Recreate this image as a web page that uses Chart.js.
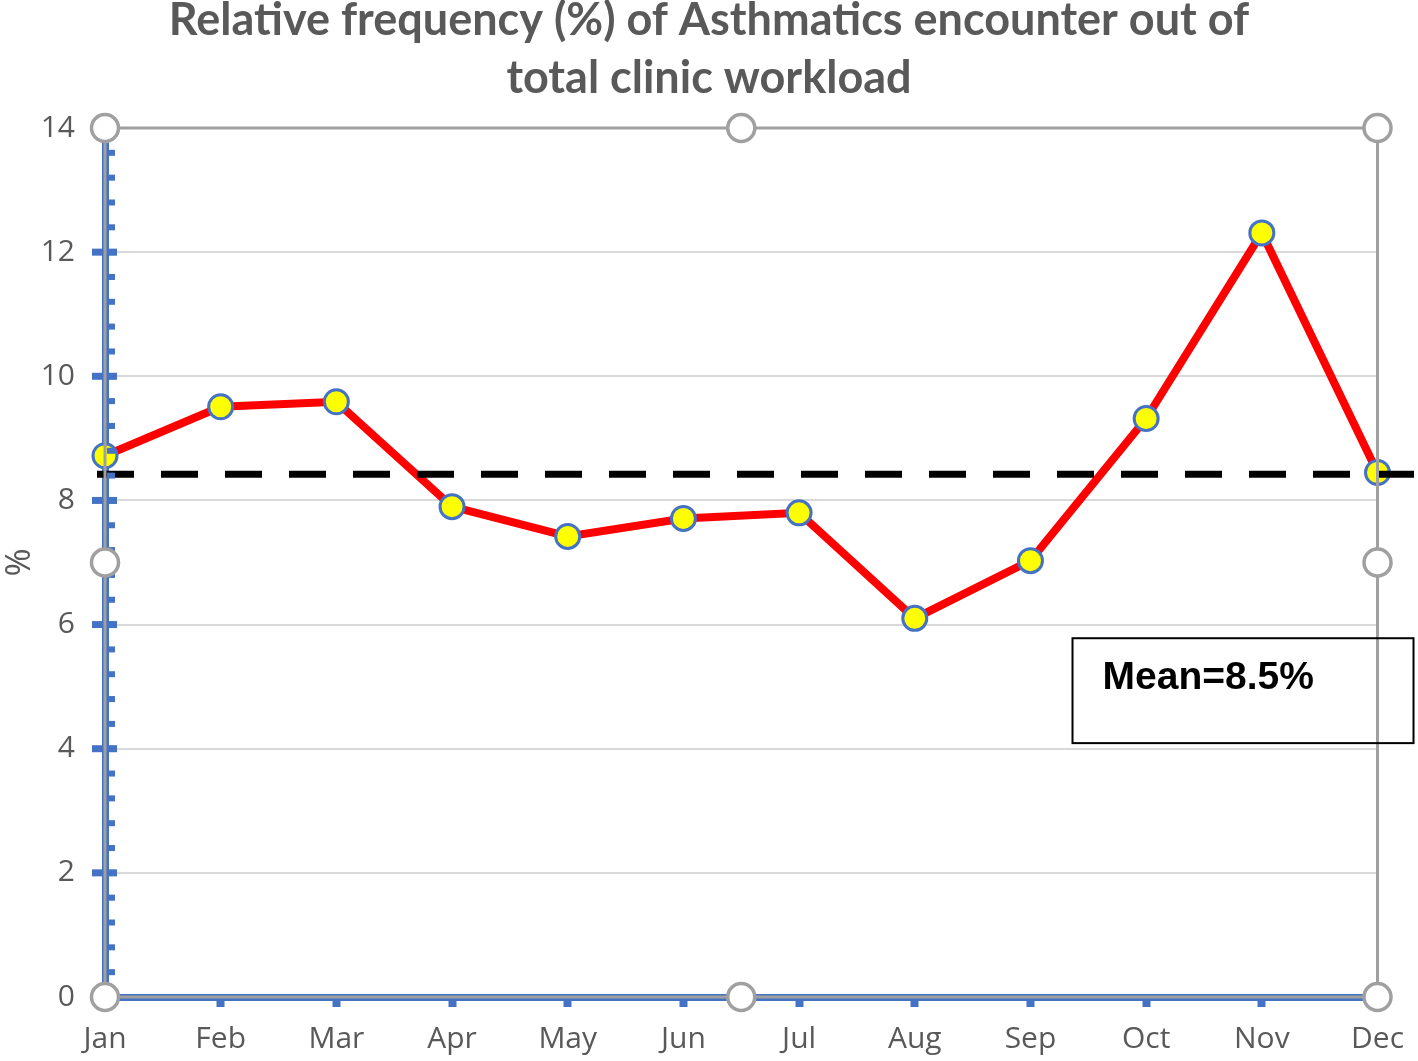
<!DOCTYPE html>
<html lang="en">
<head>
  <meta charset="UTF-8">
  <title>Relative frequency of Asthmatics encounter</title>
  <script src="https://cdn.jsdelivr.net/npm/chart.js@4.4.1/dist/chart.umd.min.js"></script>
  <style>
    body { margin: 0; background: #fff; }
    canvas { display: block; }
  </style>
</head>
<body>
  <canvas id="myChart" width="1418" height="1061"></canvas>

  <script>
    // données
    const months = ['Jan', 'Feb', 'Mar', 'Apr', 'May', 'Jun', 'Jul', 'Aug', 'Sep', 'Oct', 'Nov', 'Dec'];
    const freqValues = [8.72, 9.51, 9.59, 7.90, 7.42, 7.71, 7.80, 6.10, 7.03, 9.32, 12.31, 8.45];
    const meanValue = 8.42;
    const meanLabel = 'Mean=8.5%';
    const yMin = 0, yMax = 14, yStep = 2, yMinorStep = 0.4;

    const AXIS_BLUE = '#4472C4';
    const FRAME_GREY = '#a0a0a0';

    // ligne moyenne, encadré, axes décorés, poignées de sélection
    const decorations = {
      id: 'decorations',
      afterDatasetsDraw(chart) {
        const { ctx, chartArea: a, scales: { y } } = chart;
        const my = y.getPixelForValue(meanValue);
        ctx.save();
        ctx.strokeStyle = '#000';
        ctx.lineWidth = 7;
        ctx.setLineDash([37, 27]);
        ctx.beginPath();
        ctx.moveTo(a.left - 8, my);
        ctx.lineTo(a.right + 37, my);
        ctx.stroke();
        ctx.restore();
      },
      afterDraw(chart) {
        const { ctx, chartArea: a, scales: { y } } = chart;
        ctx.save();
        // graduations de l'axe Y
        ctx.fillStyle = AXIS_BLUE;
        for (let v = yMin; v <= yMax + 0.001; v += yMinorStep) {
          const py = y.getPixelForValue(v);
          ctx.fillRect(a.left + 2, py - 3, 8, 6);
        }
        for (let v = yMin; v <= yMax; v += yStep) {
          const py = y.getPixelForValue(v);
          ctx.fillRect(a.left - 13, py - 3.5, 25, 7);
        }
        // cadre de sélection
        ctx.strokeStyle = FRAME_GREY;
        ctx.lineWidth = 3;
        ctx.strokeRect(a.left, a.top, a.right - a.left, a.bottom - a.top);

        // encadré de la moyenne
        const bx = a.right - 305, by = y.getPixelForValue(5.78);
        const bw = 341, bh = y.getPixelForValue(4.09) - by;
        ctx.strokeStyle = '#000';
        ctx.lineWidth = 2;
        ctx.strokeRect(bx, by, bw, bh);
        ctx.fillStyle = '#000';
        ctx.font = 'bold 39px "Liberation Sans", Arial, sans-serif';
        ctx.textBaseline = 'middle';
        ctx.textAlign = 'left';
        ctx.fillText(meanLabel, bx + 30, by + 40);

        // poignées
        const cx = (a.left + a.right) / 2, cy = (a.top + a.bottom) / 2;
        const handles = [
          [a.left, a.top], [cx, a.top], [a.right, a.top],
          [a.left, cy], [a.right, cy],
          [a.left, a.bottom], [cx, a.bottom], [a.right, a.bottom]
        ];
        ctx.lineWidth = 3.5;
        ctx.strokeStyle = FRAME_GREY;
        ctx.fillStyle = '#fff';
        handles.forEach(([hx, hy]) => {
          ctx.beginPath();
          ctx.arc(hx, hy, 13.5, 0, Math.PI * 2);
          ctx.fill();
          ctx.stroke();
        });
        ctx.restore();
      }
    };

    const ctx = document.getElementById('myChart').getContext('2d');
    new Chart(ctx, {
      type: 'line',
      data: {
        labels: months,
        datasets: [{
          label: '%',
          data: freqValues,
          borderColor: '#ff0000',
          borderWidth: 8,
          backgroundColor: '#ffff00',
          pointBackgroundColor: '#ffff00',
          pointBorderColor: AXIS_BLUE,
          pointBorderWidth: 3,
          pointRadius: 12,
          tension: 0,
          clip: false
        }]
      },
      options: {
        responsive: false,
        animation: false,
        layout: { padding: 0 },
        plugins: {
          legend: { display: false },
          tooltip: { enabled: false },
          title: {
            display: true,
            text: ['Relative frequency (%) of Asthmatics encounter out of', 'total clinic workload'],
            color: '#595959',
            font: { family: 'Lato', size: 45, weight: 'bold', lineHeight: 1.3 },
            padding: { top: -9, bottom: 20 }
          }
        },
        scales: {
          x: {
            offset: false,
            border: { display: true, color: AXIS_BLUE, width: 7 },
            grid: { drawOnChartArea: false, drawTicks: true, tickLength: 10, tickWidth: 8, tickColor: AXIS_BLUE },
            ticks: { color: '#595959', font: { family: 'Open Sans', size: 30 }, padding: 14, maxRotation: 0 },
            afterFit(s) { s.height = 64; }
          },
          y: {
            min: yMin,
            max: yMax,
            border: { display: true, color: AXIS_BLUE, width: 7 },
            grid: { color: '#d9d9d9', lineWidth: 2, drawTicks: false },
            ticks: { stepSize: yStep, color: '#595959', font: { family: 'Open Sans', size: 30 }, padding: 30 },
            title: {
              display: true,
              text: '%',
              color: '#595959',
              font: { family: 'Open Sans', size: 34 },
              padding: 0
            },
            afterFit(s) { s.width = 105; }
          },
          // marge droite (place pour la ligne moyenne et l'encadré)
          yRight: {
            position: 'right',
            display: true,
            grid: { display: false },
            border: { display: false },
            ticks: { display: false },
            afterFit(s) { s.width = 40; }
          }
        }
      },
      plugins: [decorations]
    });
  </script>
</body>
</html>
